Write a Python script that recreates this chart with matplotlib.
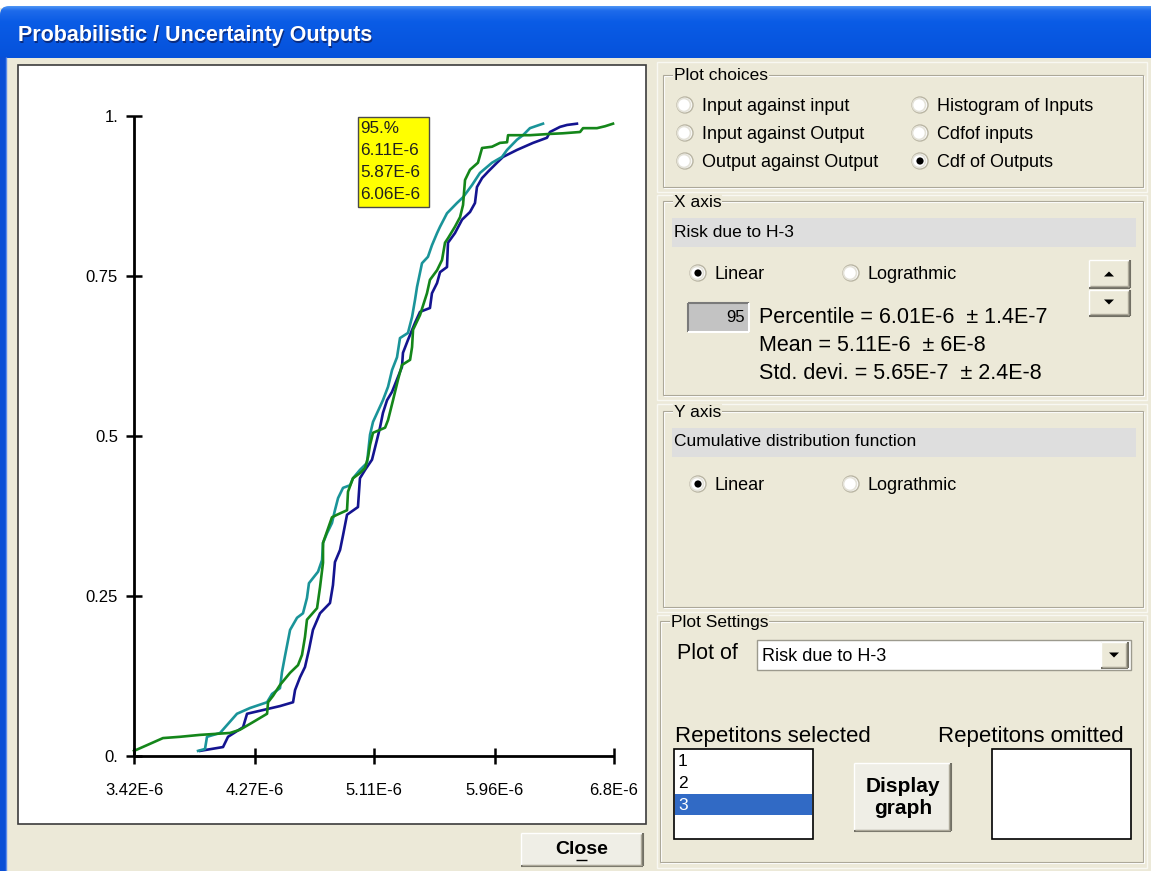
import numpy as np
import matplotlib.pyplot as plt
from matplotlib.patches import Rectangle, Circle, Polygon, FancyBboxPatch

plt.rcParams['font.family'] = ['Liberation Sans', 'DejaVu Sans']

W, H = 1151, 871
BEIGE = '#ECE9D8'

# CDF of the output for each repetition, x in units of 1E-6
rep1_x = [3.885, 4.047, 4.082, 4.188, 4.216, 4.448, 4.540, 4.554, 4.589, 4.624,
          4.652, 4.680, 4.730, 4.800, 4.821, 4.835, 4.871, 4.892, 4.920, 4.997,
          5.011, 5.047, 5.096, 5.131, 5.152, 5.173, 5.202, 5.237, 5.307, 5.314,
          5.349, 5.399, 5.434, 5.504, 5.518, 5.554, 5.575, 5.624, 5.631, 5.680,
          5.730, 5.786, 5.821, 5.835, 5.871, 5.913, 5.976, 6.018, 6.117, 6.230,
          6.328, 6.349, 6.420, 6.469, 6.539]
rep1_y = [0.008, 0.014, 0.030, 0.045, 0.066, 0.078, 0.084, 0.103, 0.123, 0.139,
          0.166, 0.197, 0.223, 0.239, 0.267, 0.303, 0.322, 0.345, 0.377, 0.389,
          0.434, 0.447, 0.463, 0.494, 0.513, 0.536, 0.556, 0.569, 0.608, 0.630,
          0.650, 0.677, 0.694, 0.700, 0.723, 0.739, 0.756, 0.764, 0.802, 0.817,
          0.838, 0.850, 0.864, 0.889, 0.903, 0.913, 0.927, 0.936, 0.947, 0.958,
          0.966, 0.975, 0.983, 0.986, 0.988]

rep2_x = [3.871, 3.920, 3.934, 4.026, 4.145, 4.237, 4.357, 4.392, 4.448, 4.462,
          4.483, 4.519, 4.568, 4.610, 4.638, 4.652, 4.716, 4.744, 4.751, 4.779,
          4.814, 4.835, 4.857, 4.892, 4.941, 4.962, 5.011, 5.061, 5.068, 5.082,
          5.103, 5.173, 5.209, 5.237, 5.272, 5.293, 5.349, 5.378, 5.399, 5.413,
          5.448, 5.490, 5.518, 5.554, 5.575, 5.624, 5.694, 5.737, 5.800, 5.856,
          5.941, 6.011, 6.047, 6.117, 6.159, 6.208, 6.300]
rep2_y = [0.008, 0.011, 0.030, 0.036, 0.066, 0.075, 0.084, 0.097, 0.106, 0.131,
          0.156, 0.197, 0.216, 0.223, 0.247, 0.270, 0.288, 0.306, 0.333, 0.348,
          0.364, 0.384, 0.403, 0.419, 0.423, 0.434, 0.447, 0.458, 0.473, 0.502,
          0.522, 0.556, 0.577, 0.603, 0.623, 0.653, 0.661, 0.686, 0.713, 0.733,
          0.770, 0.780, 0.798, 0.817, 0.827, 0.848, 0.864, 0.873, 0.892, 0.911,
          0.927, 0.936, 0.947, 0.963, 0.970, 0.981, 0.988]

rep3_x = [3.420, 3.512, 3.624, 3.744, 3.885, 4.096, 4.166, 4.251, 4.357, 4.364,
          4.399, 4.448, 4.519, 4.575, 4.603, 4.624, 4.638, 4.709, 4.730, 4.751,
          4.751, 4.814, 4.850, 4.920, 4.927, 4.962, 5.011, 5.047, 5.068, 5.082,
          5.103, 5.188, 5.209, 5.244, 5.279, 5.307, 5.364, 5.378, 5.385, 5.434,
          5.483, 5.504, 5.554, 5.589, 5.610, 5.631, 5.680, 5.716, 5.737, 5.751,
          5.786, 5.842, 5.871, 5.941, 5.997, 6.047, 6.054, 6.208, 6.349, 6.441,
          6.561, 6.582, 6.680, 6.737, 6.793]
rep3_y = [0.008, 0.017, 0.028, 0.030, 0.033, 0.036, 0.041, 0.052, 0.066, 0.084,
          0.094, 0.111, 0.130, 0.142, 0.158, 0.186, 0.213, 0.231, 0.264, 0.302,
          0.333, 0.373, 0.377, 0.384, 0.413, 0.434, 0.442, 0.450, 0.467, 0.486,
          0.505, 0.513, 0.525, 0.556, 0.588, 0.611, 0.619, 0.639, 0.666, 0.689,
          0.723, 0.744, 0.759, 0.775, 0.802, 0.809, 0.827, 0.842, 0.861, 0.900,
          0.916, 0.927, 0.950, 0.952, 0.958, 0.959, 0.970, 0.970, 0.972, 0.973,
          0.975, 0.981, 0.981, 0.984, 0.988]

x_ticks = [3.42, 4.27, 5.11, 5.96, 6.8]
x_tick_labels = ["3.42E-6", "4.27E-6", "5.11E-6", "5.96E-6", "6.8E-6"]
y_ticks = [0, 0.25, 0.5, 0.75, 1.0]
y_tick_labels = ["0.", "0.25", "0.5", "0.75", "1."]

marker_lines = ["95.%", "6.11E-6", "5.87E-6", "6.06E-6"]
choices_left = ["Input against input", "Input against Output", "Output against Output"]
choices_right = ["Histogram of Inputs", "Cdfof inputs", "Cdf of Outputs"]
variable_name = "Risk due to H-3"
percentile = "95"
stats_lines = ["Percentile = 6.01E-6  \u00b1 1.4E-7",
               "Mean = 5.11E-6  \u00b1 6E-8",
               "Std. devi. = 5.65E-7  \u00b1 2.4E-8"]
repetitions = ["1", "2", "3"]

fig = plt.figure(figsize=(W / 100, H / 100), dpi=100)
fig.patch.set_facecolor('white')

# whole window is drawn in pixel units on one background axes
ui = fig.add_axes([0, 0, 1, 1])
ui.set_axis_off()


def rect(x0, y0, x1, y1, fc='none', ec='none', lw=1.0, z=1):
    ui.add_patch(Rectangle((x0, y0), x1 - x0, y1 - y0, fc=fc, ec=ec, lw=lw, zorder=z))


def hline(x0, x1, y, c, lw=1.0, z=2):
    ui.plot([x0, x1], [y, y], color=c, lw=lw, zorder=z, solid_capstyle='butt')


def vline(x, y0, y1, c, lw=1.0, z=2):
    ui.plot([x, x], [y0, y1], color=c, lw=lw, zorder=z, solid_capstyle='butt')


def label(x, y, s, size=13, ha='left', **kw):
    # small downward nudge so the glyphs sit on the same line as the widgets
    ui.text(x, y + 1.5, s, fontsize=size, va='center', ha=ha, zorder=4, **kw)


def raised(x0, y0, x1, y1, fc=BEIGE):
    rect(x0, y0, x1, y1, fc=fc)
    hline(x0, x1, y0, 'white')
    vline(x0, y0, y1, 'white')
    hline(x0, x1, y1, '#716F64', lw=1.5)
    vline(x1, y0, y1, '#716F64', lw=1.5)
    hline(x0 + 1, x1 - 1, y1 - 1.5, '#ACA899')
    vline(x1 - 1.5, y0 + 1, y1 - 1, '#ACA899')


def group_box(x0, y0, x1, y1, text):
    rect(x0 + 1, y0 + 1, x1 + 1, y1 + 1, ec='white', lw=0.8)
    rect(x0, y0, x1, y1, ec='#ACA899', lw=0.8)
    ui.text(x0 + 11, y0 + 1, text, fontsize=12.5, va='center', ha='left', zorder=3,
            bbox=dict(fc=BEIGE, ec='none', pad=0.5))


def radio(cx, cy, text, checked=False):
    ui.add_patch(Circle((cx, cy), 8, fc='white', ec='#B8B4A2', lw=1.0, zorder=3))
    ui.add_patch(Circle((cx - 1, cy), 6.5, fc='none', ec='#E4E2D8', lw=1.2, zorder=3))
    if checked:
        ui.add_patch(Circle((cx, cy), 3.6, fc='black', ec='none', zorder=4))
    label(cx + 17, cy, text, size=13)


def triangle(cx, cy, up=True, s=5):
    d = -s / 2 if up else s / 2
    ui.add_patch(Polygon([(cx - s, cy - d), (cx + s, cy - d), (cx, cy + d)],
                         closed=True, fc='black', ec='none', zorder=4))


# window body and frame
rect(0, 0, W, H, fc=BEIGE, z=0)
rect(0, 0, W, 8, fc='white', z=0.5)
grad = np.linspace(0, 1, 60)[:, None]
title_colors = np.stack([np.interp(grad, [0, 0.08, 0.3, 1], c)
                         for c in ([0.30, 0.12, 0.04, 0.02],
                                   [0.58, 0.42, 0.36, 0.32],
                                   [0.96, 0.92, 0.90, 0.86])], axis=-1)
title_img = ui.imshow(np.repeat(title_colors, 4, axis=1), extent=(0, W, 58, 6),
                      aspect='auto', zorder=1, interpolation='bilinear')
clip = FancyBboxPatch((0, 6), W + 30, 80, boxstyle='round,pad=0,rounding_size=9',
                      transform=ui.transData, fc='none', ec='none')
ui.add_patch(clip)
title_img.set_clip_path(clip)
rect(0, 57, 7, H, fc='#0A4FD6', z=1)
vline(6.5, 57, H, '#5C8CEB', lw=1.0)
ui.text(19, 37, "Probabilistic / Uncertainty Outputs", color='#0A2C80', fontsize=15.5,
        fontweight='bold', va='center', ha='left', zorder=2)
ui.text(18, 36, "Probabilistic / Uncertainty Outputs", color='white', fontsize=15.5,
        fontweight='bold', va='center', ha='left', zorder=3)

# white chart panel
rect(18, 65, 646, 824, fc='white', ec='#3C3C3C', lw=1.2)

# yellow marker box
rect(358, 117, 429, 207, fc='#FFFF00', ec='#4A4A4A', lw=1.0, z=3)
for i, line in enumerate(marker_lines):
    label(360, 127 + 22 * i, line, size=12.3, color='#202020')

# Close button
raised(521, 833, 643, 866, fc='#EFEEE6')
label(582, 848, "Close", size=14, ha='center', fontweight='bold')
hline(576, 587, 860, 'black', lw=1.0, z=4)

# right hand panels
for y0, y1 in [(62, 192), (195, 400), (404, 612), (615, 868)]:
    rect(657, y0, 1147, y1, ec='#F8F8F2', lw=1.0)

group_box(663, 75, 1143, 187, "Plot choices")
for i, (a, b) in enumerate(zip(choices_left, choices_right)):
    radio(685, 105 + 28 * i, a)
    radio(920, 105 + 28 * i, b, checked=(i == 2))

group_box(663, 201, 1143, 395, "X axis")
rect(672, 218, 1136, 247, fc='#DEDEDE')
label(674, 231, variable_name, size=12.5)
radio(698, 273, "Linear", checked=True)
radio(851, 273, "Lograthmic")
raised(1089, 260, 1130, 288)
raised(1089, 290, 1130, 316)
triangle(1109, 274, up=True)
triangle(1109, 302, up=False)
rect(688, 303, 749, 332, fc='#C3C3C3')
hline(688, 749, 303.5, '#7A7A7A', lw=1.5)
vline(688.5, 303, 332, '#7A7A7A', lw=1.5)
hline(688, 749, 332, 'white', lw=1.5)
vline(749, 303, 332, 'white', lw=1.5)
label(745, 316, percentile, size=12, ha='right')
for i, line in enumerate(stats_lines):
    label(759, 316 + 28 * i, line, size=15.5)

group_box(663, 411, 1143, 607, "Y axis")
rect(672, 428, 1136, 457, fc='#DEDEDE')
label(674, 440, "Cumulative distribution function", size=12.5)
radio(698, 484, "Linear", checked=True)
radio(851, 484, "Lograthmic")

group_box(660, 621, 1143, 862, "Plot Settings")
label(677, 652, "Plot of", size=15.5)
rect(757, 640, 1131, 670, fc='white', ec='#9C9A8E', lw=1.0)
raised(1101, 642, 1128, 668)
triangle(1114, 655, up=False)
label(762, 655, variable_name, size=13)
label(675, 735, "Repetitons selected", size=16)
label(938, 735, "Repetitons omitted", size=16)
rect(674, 749, 813, 839, fc='white', ec='black', lw=1.2)
rect(675, 794, 812, 815, fc='#316AC5', z=2)
for i, rep in enumerate(repetitions):
    label(678, 760 + 22 * i, rep, size=12.5, color='white' if i == 2 else 'black')
rect(992, 749, 1131, 839, fc='white', ec='black', lw=1.2)
raised(854, 763, 951, 831, fc='#EFEEE6')
label(903, 785, "Display", size=15, ha='center', fontweight='bold')
label(903, 807, "graph", size=15, ha='center', fontweight='bold')

ui.set_xlim(0, W)
ui.set_ylim(H, 0)

# CDF plot area
ax = fig.add_axes([134 / W, (H - 756) / H, 480 / W, 640 / H])
ax.set_facecolor('none')
ax.plot(rep1_x, rep1_y, color='#141490', lw=1.9, clip_on=False)
ax.plot(rep2_x, rep2_y, color='#1A9499', lw=1.9, clip_on=False)
ax.plot(rep3_x, rep3_y, color='#14861A', lw=1.9, clip_on=False)
ax.set_xlim(3.42, 6.8)
ax.set_ylim(0, 1)
ax.set_xticks(x_ticks, x_tick_labels)
ax.set_yticks(y_ticks, y_tick_labels)
for side in ['top', 'right']:
    ax.spines[side].set_visible(False)
for side in ['left', 'bottom']:
    ax.spines[side].set_linewidth(2.0)
    ax.spines[side].set_color('black')
    ax.spines[side].set_capstyle('butt')
ax.tick_params(axis='both', direction='inout', length=11, width=1.8, labelsize=12)
ax.tick_params(axis='x', pad=14)
ax.tick_params(axis='y', pad=6)

fig.savefig('out.png', dpi=100)
